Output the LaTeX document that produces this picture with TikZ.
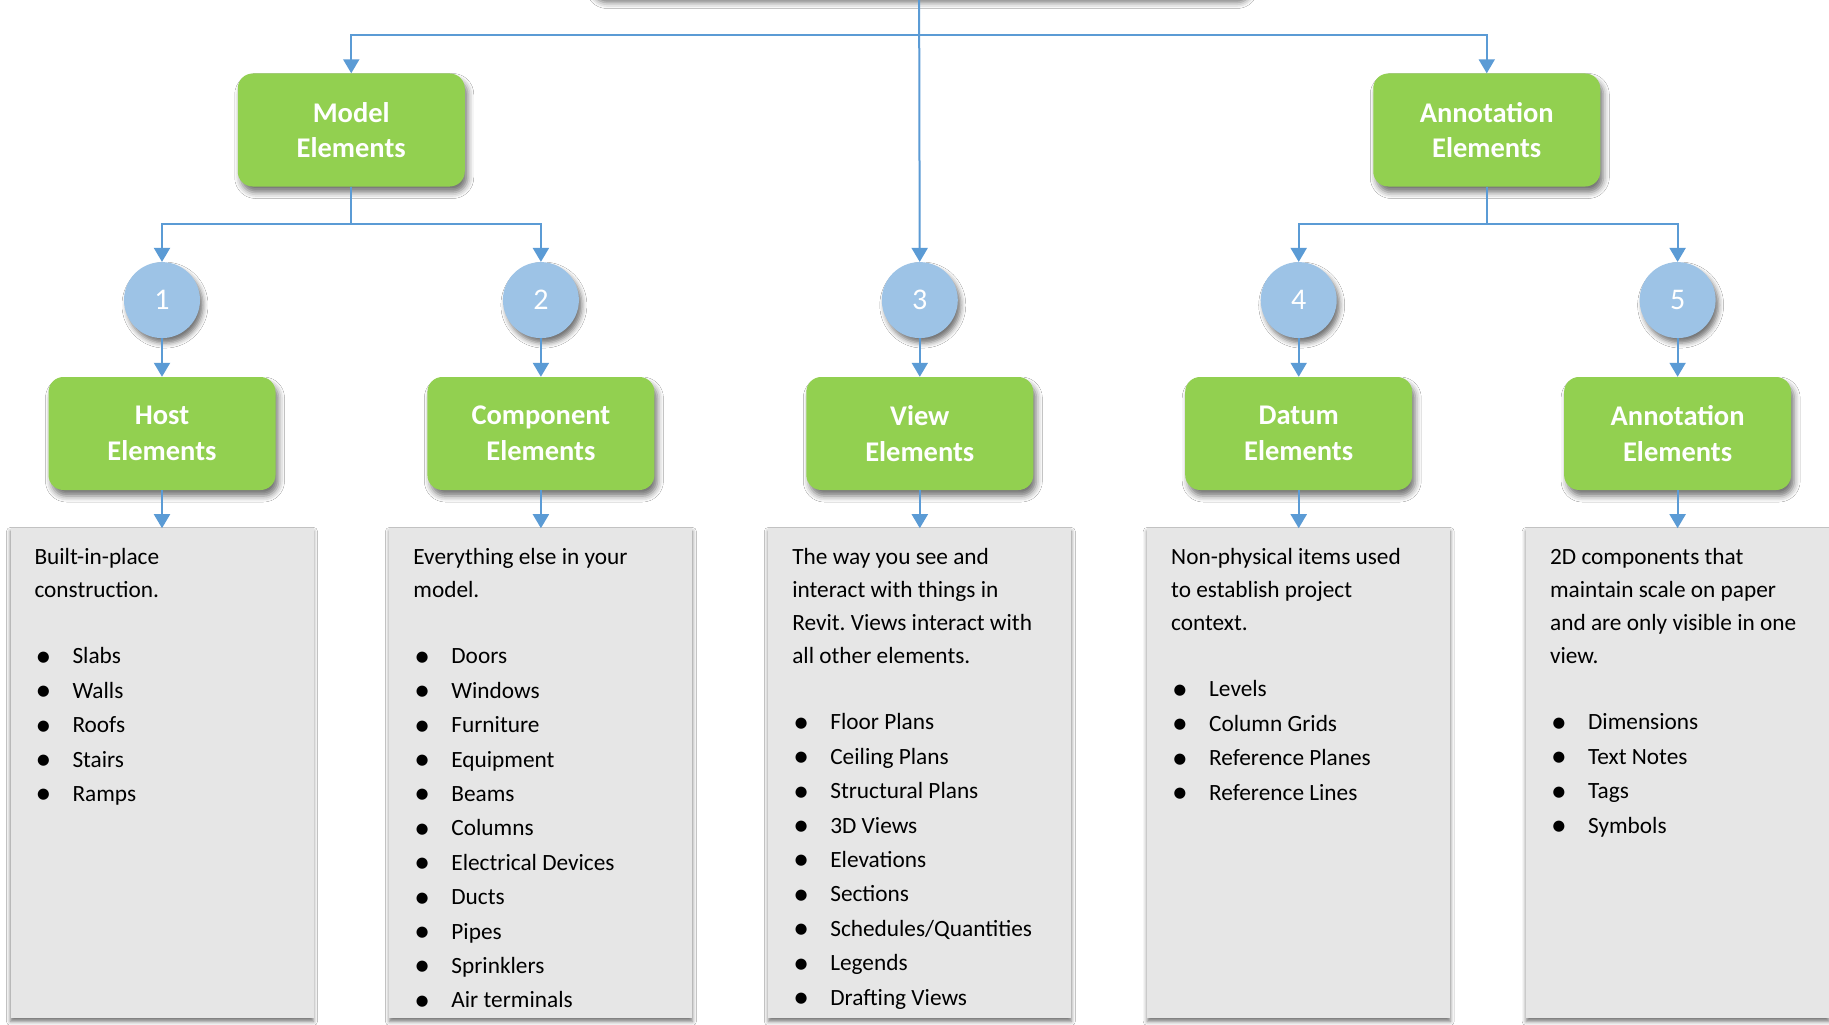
\documentclass[tikz,border=0pt]{standalone}
\usepackage{fontspec}
\setmainfont{Carlito}
\usetikzlibrary{arrows.meta, positioning, calc, shadows.blur}
\definecolor{leafgreen}{HTML}{92D050}
\definecolor{linkblue}{HTML}{5B9BD5}
\definecolor{circblue}{HTML}{9DC3E6}
\definecolor{notegrey}{HTML}{E6E6E6}
\tikzstyle{category} = [rectangle, rounded corners=15pt, minimum width=227pt, minimum height=113pt, inner sep=0pt, align=center, fill=leafgreen, text=white, font=\fontsize{28.5}{35.7}\selectfont\bfseries, blur shadow={shadow xshift=3pt, shadow yshift=-6pt, shadow blur radius=6pt, shadow blur extra rounding=0pt, shadow opacity=55}]
\tikzstyle{number} = [circle, minimum size=76pt, inner sep=0pt, fill=circblue, text=white, font=\fontsize{30}{36}\selectfont, blur shadow={shadow xshift=3pt, shadow yshift=-5pt, shadow blur radius=5pt, shadow blur extra rounding=0pt, shadow opacity=55}]
\tikzstyle{note} = [rectangle, minimum width=303pt, minimum height=490pt, inner sep=0pt, fill=notegrey, blur shadow={shadow xshift=0pt, shadow yshift=-3pt, shadow blur radius=4pt, shadow blur extra rounding=0pt, shadow opacity=55}]
\tikzstyle{notetext} = [align=left, inner sep=0pt, anchor=north west, font=\fontsize{23.3}{34.4}\selectfont]
\tikzstyle{arrow} = [linkblue, line width=2pt, -{Triangle[width=16pt, length=14pt]}]
\newcommand{\itm}{\makebox[38pt][l]{\hspace{1pt}\raisebox{-2.3pt}{\scalebox{1.35}{\textbullet}}}}
\frenchspacing

\begin{document}
\begin{tikzpicture}[x=1pt, y=-1pt]
    \path [use as bounding box, fill=white] (0,0) rectangle (1829,1025);

    \node (root) [category, minimum width=660pt] at (919,-60) {};
    \node (model) [category] at (351.25,130) {Model\\Elements};
    \node (annot-top) [category] at (1486.75,130) {Annotation\\Elements};

    \node (host) [category] at (162,433.5) {Host\\Elements};
    \node (component) [category, right=151.5pt of host] {Component\\Elements};
    \node (view) [category, right=151.5pt of component] {View\\Elements};
    \node (datum) [category, right=151.5pt of view] {Datum\\Elements};
    \node (annot) [category, right=151.5pt of datum] {Annotation\\Elements};

    \node (num1) [number, above=38.5pt of host] {1};
    \node (num2) [number, above=38.5pt of component] {2};
    \node (num3) [number, above=38.5pt of view] {3};
    \node (num4) [number, above=38.5pt of datum] {4};
    \node (num5) [number, above=38.5pt of annot] {5};

    \node (host-note) [note, below=38pt of host] {};
    \node (component-note) [note, below=38pt of component] {};
    \node (view-note) [note, below=38pt of view] {};
    \node (datum-note) [note, below=38pt of datum] {};
    \node (annot-note) [note, below=38pt of annot] {};

    \node (host-text) [notetext] at ($(host-note.north west)+(24,16)$) {\rule{0pt}{20pt}Built-in-place\\[-1.4pt]construction.\\[32.1pt]\itm Slabs\\ \itm Walls\\ \itm Roofs\\ \itm Stairs\\ \itm Ramps};
    \node (component-text) [notetext] at ($(component-note.north west)+(24,16)$) {\rule{0pt}{20pt}Everything else in your\\[-1.4pt]model.\\[32.1pt]\itm Doors\\ \itm Windows\\ \itm Furniture\\ \itm Equipment\\ \itm Beams\\ \itm Columns\\ \itm Electrical Devices\\ \itm Ducts\\ \itm Pipes\\ \itm Sprinklers\\ \itm Air terminals};
    \node (view-text) [notetext] at ($(view-note.north west)+(24,16)$) {\rule{0pt}{20pt}The way you see and\\[-1.4pt]interact with things in\\[-1.4pt]Revit. Views interact with\\[-1.4pt]all other elements.\\[32.1pt]\itm Floor Plans\\ \itm Ceiling Plans\\ \itm Structural Plans\\ \itm 3D Views\\ \itm Elevations\\ \itm Sections\\ \itm Schedules/Quantities\\ \itm Legends\\ \itm Drafting Views};
    \node (datum-text) [notetext] at ($(datum-note.north west)+(24,16)$) {\rule{0pt}{20pt}Non-physical items used\\[-1.4pt]to establish project\\[-1.4pt]context.\\[32.1pt]\itm Levels\\ \itm Column Grids\\ \itm Reference Planes\\ \itm Reference Lines};
    \node (annot-text) [notetext] at ($(annot-note.north west)+(24,16)$) {\rule{0pt}{20pt}2D components that\\[-1.4pt]maintain scale on paper\\[-1.4pt]and are only visible in one\\[-1.4pt]view.\\[32.1pt]\itm Dimensions\\ \itm Text Notes\\ \itm Tags\\ \itm Symbols};

    \coordinate (top-bus) at (919,35);
    \draw [arrow] (root) -- (num3);
    \draw [arrow] (top-bus) -| (model);
    \draw [arrow] (top-bus) -| (annot-top);
    \draw [arrow] (model) |- ($(num1.north)!.5!(model.south)$) -| (num1);
    \draw [arrow] (model) |- ($(num2.north)!.5!(model.south)$) -| (num2);
    \draw [arrow] (annot-top) |- ($(num4.north)!.5!(annot-top.south)$) -| (num4);
    \draw [arrow] (annot-top) |- ($(num5.north)!.5!(annot-top.south)$) -| (num5);

    \draw [arrow] (num1) -- (host);
    \draw [arrow] (num2) -- (component);
    \draw [arrow] (num3) -- (view);
    \draw [arrow] (num4) -- (datum);
    \draw [arrow] (num5) -- (annot);
    \draw [arrow] (host) -- (host-note);
    \draw [arrow] (component) -- (component-note);
    \draw [arrow] (view) -- (view-note);
    \draw [arrow] (datum) -- (datum-note);
    \draw [arrow] (annot) -- (annot-note);
\end{tikzpicture}
\end{document}
